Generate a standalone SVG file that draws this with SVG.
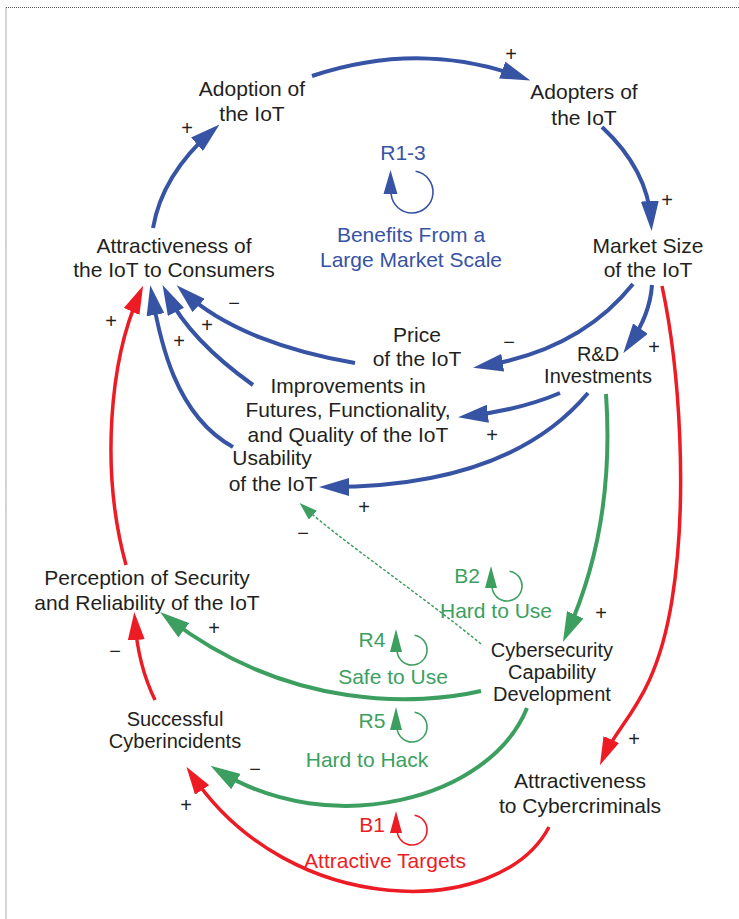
<svg xmlns="http://www.w3.org/2000/svg" width="739" height="919" viewBox="0 0 739 919">
<style>
text{font-family:"Liberation Sans",Arial,sans-serif;font-size:21px;text-anchor:middle;fill:#231f20}
.sm{font-size:20px}
.sg{font-size:20px}
.tb{fill:#3753a4}.tr{fill:#ed1c24}.tg{fill:#3c9f5f}
.cb{fill:none;stroke:#3753a4;stroke-width:4}
.cr{fill:none;stroke:#ed1c24;stroke-width:3.5}
.cg{fill:none;stroke:#3c9f5f;stroke-width:4}
.cd{fill:none;stroke:#3c9f5f;stroke-width:1.5;stroke-dasharray:3 2}
.lb{fill:none;stroke:#3753a4;stroke-width:1.6}
.lr{fill:none;stroke:#ed1c24;stroke-width:1.6}
.lg{fill:none;stroke:#3c9f5f;stroke-width:1.6}
</style>
<defs>
<marker id="ab" markerUnits="userSpaceOnUse" markerWidth="30" markerHeight="18" refX="20" refY="9" orient="auto" viewBox="0 0 30 18"><path d="M0,0 L30,9 L0,18 z" fill="#3753a4"/></marker>
<marker id="ar" markerUnits="userSpaceOnUse" markerWidth="28" markerHeight="17" refX="18" refY="8.5" orient="auto" viewBox="0 0 28 17"><path d="M0,0 L28,8.5 L0,17 z" fill="#ed1c24"/></marker>
<marker id="ag" markerUnits="userSpaceOnUse" markerWidth="30" markerHeight="18" refX="20" refY="9" orient="auto" viewBox="0 0 30 18"><path d="M0,0 L30,9 L0,18 z" fill="#3c9f5f"/></marker>
<marker id="ad" markerUnits="userSpaceOnUse" markerWidth="18" markerHeight="12" refX="12" refY="6" orient="auto" viewBox="0 0 18 12"><path d="M0,0 L18,6 L0,12 z" fill="#3c9f5f"/></marker>
</defs>
<rect width="739" height="919" fill="#fff"/>
<path d="M6,7.5 H739 M6,7.5 V919" fill="none" stroke="#555" stroke-width="1" stroke-dasharray="1 1"/>

<g id="connectors">
<path class="cb" d="M312,76 Q420,40 521,77" marker-end="url(#ab)"/>
<path class="cb" d="M602,127 Q648,170 651,221" marker-end="url(#ab)"/>
<path class="cb" d="M153,228 Q162,175 212,131" marker-end="url(#ab)"/>
<path class="cb" d="M633,284 Q580,350 483,366" marker-end="url(#ab)"/>
<path class="cb" d="M652,285 Q650,315 629,345" marker-end="url(#ab)"/>
<path class="cr" d="M662,286 C680,370 688,500 672,600 C656,700 620,720 604,756" marker-end="url(#ar)"/>
<path class="cb" d="M355,363 C290,352 225,330 184,292" marker-end="url(#ab)"/>
<path class="cb" d="M253,385 Q190,340 167,294" marker-end="url(#ab)"/>
<path class="cb" d="M233,447 C175,415 160,340 152,295" marker-end="url(#ab)"/>
<path class="cb" d="M560,393 Q520,410 468,416" marker-end="url(#ab)"/>
<path class="cb" d="M588,393 C540,450 460,487 329,487" marker-end="url(#ab)"/>
<path class="cg" d="M606,394 C612,480 600,560 567,633" marker-end="url(#ag)"/>
<path class="cd" d="M481,644 C420,594 340,540 304,507" marker-end="url(#ad)"/>
<path class="cg" d="M481,691 C420,705 290,712 168,618" marker-end="url(#ag)"/>
<path class="cg" d="M527,708 C490,800 330,840 219,771" marker-end="url(#ag)"/>
<path class="cr" d="M549,827 C500,920 290,920 192,775" marker-end="url(#ar)"/>
<path class="cr" d="M155,700 Q138,665 135,622" marker-end="url(#ar)"/>
<path class="cr" d="M126,565 C100,470 110,360 139,295" marker-end="url(#ar)"/>
</g>

<g id="polarities">
<text class="sg" x="511" y="61">+</text>
<text class="sg" x="667" y="207">+</text>
<text class="sg" x="187" y="135">+</text>
<text class="sg" x="509" y="349">−</text>
<text class="sg" x="654" y="354">+</text>
<text class="sg" x="634" y="746">+</text>
<text class="sg" x="234" y="310">−</text>
<text class="sg" x="207" y="332">+</text>
<text class="sg" x="179" y="348">+</text>
<text class="sg" x="111" y="328">+</text>
<text class="sg" x="492" y="442">+</text>
<text class="sg" x="364" y="514">+</text>
<text class="sg" x="303" y="540">−</text>
<text class="sg" x="601" y="620">+</text>
<text class="sg" x="214" y="635">+</text>
<text class="sg" x="115" y="658">−</text>
<text class="sg" x="255" y="776">−</text>
<text class="sg" x="186" y="812">+</text>
</g>

<g id="adoption"><text x="252" y="96">Adoption of</text><text x="252" y="121">the IoT</text></g>
<g id="adopters"><text x="584" y="99">Adopters of</text><text x="584" y="125">the IoT</text></g>
<g id="market-size"><text x="648" y="253">Market Size</text><text x="648" y="277">of the IoT</text></g>
<g id="attractiveness-consumers"><text x="174" y="253">Attractiveness of</text><text x="174" y="277">the IoT to Consumers</text></g>
<g id="price"><text x="417" y="342">Price</text><text x="417" y="366">of the IoT</text></g>
<g id="rd"><text class="sm" x="598" y="361">R&amp;D</text><text class="sm" x="598" y="383">Investments</text></g>
<g id="improvements"><text x="348" y="393">Improvements in</text><text x="348" y="417">Futures, Functionality,</text><text x="348" y="442">and Quality of the IoT</text></g>
<g id="usability"><text x="272" y="465">Usability</text><text x="273" y="491">of the IoT</text></g>
<g id="perception"><text x="147" y="585">Perception of Security</text><text x="147" y="610">and Reliability of the IoT</text></g>
<g id="cybersecurity"><text class="sm" x="552" y="657">Cybersecurity</text><text class="sm" x="552" y="679">Capability</text><text class="sm" x="552" y="701">Development</text></g>
<g id="successful"><text class="sm" x="175" y="726">Successful</text><text class="sm" x="175" y="748">Cyberincidents</text></g>
<g id="attractiveness-cybercriminals"><text x="580" y="788">Attractiveness</text><text x="580" y="813">to Cybercriminals</text></g>

<g id="loop-r1-3">
<text class="tb" x="403" y="160">R1-3</text>
<path class="lb" d="M415.6,171.3 A21,21 0 1 1 391.1,193.8"/>
<path d="M390.5,170 L383.5,194 L397.5,194 z" fill="#3753a4"/>
<text class="tb" x="411" y="242">Benefits From a</text>
<text class="tb" x="411" y="267">Large Market Scale</text>
</g>
<g id="loop-b2">
<text class="tg" x="467" y="583">B2</text>
<path class="lg" d="M509.6,571.2 A15,15 0 1 1 492.1,587.3"/>
<path d="M491,566 L485,588 L497,588 z" fill="#3c9f5f"/>
<text class="tg" x="496" y="618">Hard to Use</text>
</g>
<g id="loop-r4">
<text class="tg" x="372" y="647">R4</text>
<path class="lg" d="M414.6,635.2 A15,15 0 1 1 397.1,651.3"/>
<path d="M396,629 L390,652 L402,652 z" fill="#3c9f5f"/>
<text class="tg" x="393" y="684">Safe to Use</text>
</g>
<g id="loop-r5">
<text class="tg" x="372" y="728">R5</text>
<path class="lg" d="M414.6,712.2 A15,15 0 1 1 397.1,728.3"/>
<path d="M396,707 L390,730 L402,730 z" fill="#3c9f5f"/>
<text class="tg" x="367" y="767">Hard to Hack</text>
</g>
<g id="loop-b1">
<text class="tr" x="372" y="832">B1</text>
<path class="lr" d="M414.6,815.2 A15,15 0 1 1 397.1,831.3"/>
<path d="M396,811 L390,833 L402,833 z" fill="#ed1c24"/>
<text class="tr" x="385" y="868">Attractive Targets</text>
</g>
</svg>
